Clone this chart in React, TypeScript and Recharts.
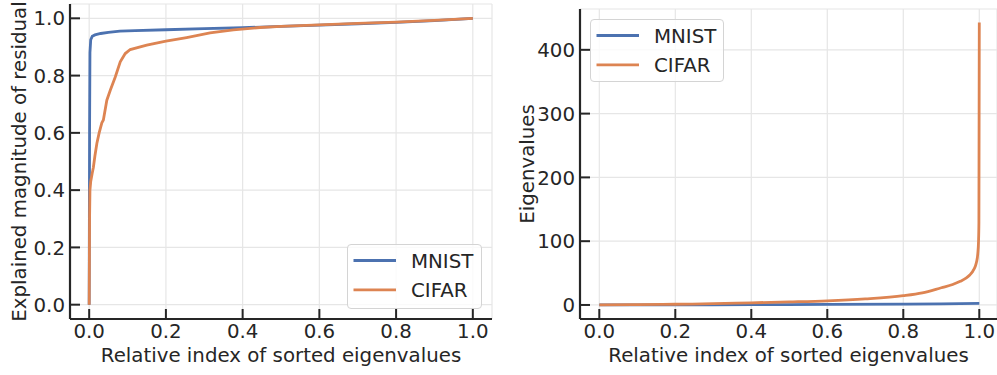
import React from 'react';
import { LineChart, Line, XAxis, YAxis, CartesianGrid, Label } from 'recharts';

const BLUE = '#4c72b0';
const ORANGE = '#dd8452';
const INK = '#262626';
const GRID = '#e6e6e6';
const FONT = '"DejaVu Sans", Verdana, sans-serif';
const FS = 19.8;

// left panel: explained magnitude of residual vs relative index
const mnistResX = [0, 0.0005, 0.001, 0.002, 0.004, 0.008, 0.015, 0.03, 0.05, 0.08, 0.12, 0.2, 0.3, 0.4, 0.5, 0.6, 0.7, 0.8, 0.9, 1.0];
const mnistResY = [0, 0.3, 0.6, 0.88, 0.925, 0.937, 0.942, 0.947, 0.951, 0.955, 0.957, 0.96, 0.964, 0.967, 0.972, 0.976, 0.981, 0.986, 0.992, 1.0];
const cifarResX = [0, 0.0005, 0.001, 0.002, 0.004, 0.008, 0.011, 0.015, 0.02, 0.026, 0.033, 0.037, 0.046, 0.055, 0.068, 0.081, 0.094, 0.107, 0.15, 0.2, 0.254, 0.315, 0.376, 0.445, 0.5, 0.6, 0.7, 0.8, 0.9, 1.0];
const cifarResY = [0, 0.15, 0.3, 0.4, 0.43, 0.46, 0.48, 0.52, 0.563, 0.6, 0.635, 0.645, 0.714, 0.749, 0.795, 0.848, 0.877, 0.891, 0.906, 0.92, 0.933, 0.949, 0.96, 0.968, 0.972, 0.977, 0.982, 0.987, 0.993, 1.0];

// right panel: sorted eigenvalues
const mnistEigX = [0, 0.2, 0.4, 0.6, 0.8, 0.9, 1.0];
const mnistEigY = [0, 0.2, 0.5, 0.9, 1.4, 1.8, 2.6];
const cifarEigX = [0, 0.1, 0.2, 0.3, 0.4, 0.5, 0.6, 0.7, 0.8, 0.85, 0.9, 0.93, 0.95, 0.965, 0.975, 0.983, 0.989, 0.993, 0.996, 0.998, 0.999, 1.0];
const cifarEigY = [0, 0.5, 1.1, 2, 3.4, 4.8, 6.5, 9.5, 14.5, 19, 27, 32, 37, 42, 47, 53, 60, 68, 80, 100, 130, 443];

const unitTicks = [0, 0.2, 0.4, 0.6, 0.8, 1.0];
const eigTicks = [0, 100, 200, 300, 400];
const seriesNames = ['MNIST', 'CIFAR'];
const seriesColors = [BLUE, ORANGE];

const zip = (xs: number[], ys: number[]) => xs.map((x, i) => ({ x, y: ys[i] }));

const XTick = (props: any) => {
  const { x, y, payload } = props;
  return (
    <g>
      <line x1={x} x2={x} y1={y - 10} y2={y} stroke={INK} strokeWidth={2} />
      <text x={x} y={y + 19} textAnchor="middle" fontSize={FS} fontFamily={FONT} fill={INK}>
        {Number(payload.value).toFixed(1)}
      </text>
    </g>
  );
};

const makeYTick = (fmt: (v: number) => string) => (props: any) => {
  const { x, y, payload } = props;
  return (
    <g>
      <line x1={x} x2={x + 10} y1={y} y2={y} stroke={INK} strokeWidth={2} />
      <text x={x - 5} y={y} dy="0.36em" textAnchor="end" fontSize={FS} fontFamily={FONT} fill={INK}>
        {fmt(Number(payload.value))}
      </text>
    </g>
  );
};

const YLabel = ({ viewBox, cx, text }: any) => {
  const cy = viewBox.y + viewBox.height / 2;
  return (
    <text x={cx} y={cy} transform={`rotate(-90 ${cx} ${cy})`} dy="0.36em" textAnchor="middle" fontSize={FS} fontFamily={FONT} fill={INK}>
      {text}
    </text>
  );
};

const XLabel = ({ viewBox, text }: any) => (
  <text x={viewBox.x + viewBox.width / 2} y={viewBox.y + 43} textAnchor="middle" fontSize={FS} fontFamily={FONT} fill={INK}>
    {text}
  </text>
);

function LegendBox({ left, top, width, height }: { left: number; top: number; width: number; height: number }) {
  return (
    <div
      style={{
        position: 'absolute', left, top, width, height, boxSizing: 'border-box',
        border: '1px solid #d4d4d4', borderRadius: 4, background: 'rgba(255,255,255,0.8)',
      }}
    >
      <svg width={width} height={height} style={{ position: 'absolute', left: -1, top: -1 }}>
        {seriesNames.map((name, i) => (
          <g key={name}>
            <line x1={6.5} x2={49} y1={16.5 + i * 29.3} y2={16.5 + i * 29.3} stroke={seriesColors[i]} strokeWidth={2.8} />
            <text x={64} y={23.7 + i * 29} fontSize={FS} fontFamily={FONT} fill={INK}>{name}</text>
          </g>
        ))}
      </svg>
    </div>
  );
}

const axisLine = { stroke: INK, strokeWidth: 2.2 };

export default function App() {
  return (
    <div style={{ position: 'absolute', left: 0, top: 0, width: 997, height: 375, background: '#fff', overflow: 'hidden' }}>
      <div style={{ position: 'absolute', left: 0, top: 0 }}>
        <LineChart width={500} height={375} margin={{ top: 4, right: 8, bottom: 0, left: 0 }}>
          <CartesianGrid stroke={GRID} strokeWidth={1.2} />
          <XAxis
            type="number" dataKey="x" domain={[-0.05, 1.05]} allowDataOverflow ticks={unitTicks} interval={0}
            height={56} tickSize={0} tickMargin={0} tickLine={false} axisLine={axisLine} tick={XTick}
          >
            <Label content={<XLabel text="Relative index of sorted eigenvalues" />} />
          </XAxis>
          <YAxis
            type="number" domain={[-0.05, 1.05]} allowDataOverflow ticks={unitTicks} interval={0}
            width={70} tickSize={0} tickMargin={0} tickLine={false} axisLine={axisLine} tick={makeYTick((v) => v.toFixed(1))}
          >
            <Label content={<YLabel cx={19} text="Explained magnitude of residual" />} />
          </YAxis>
          <Line data={zip(mnistResX, mnistResY)} dataKey="y" type="linear" stroke={BLUE} strokeWidth={2.8} dot={false} isAnimationActive={false} />
          <Line data={zip(cifarResX, cifarResY)} dataKey="y" type="linear" stroke={ORANGE} strokeWidth={2.8} dot={false} isAnimationActive={false} />
        </LineChart>
      </div>
      <div style={{ position: 'absolute', left: 500, top: 0 }}>
        <LineChart width={497} height={375} margin={{ top: 9, right: 0, bottom: 0, left: 0 }}>
          <CartesianGrid stroke={GRID} strokeWidth={1.2} />
          <XAxis
            type="number" dataKey="x" domain={[-0.0508, 1.0466]} allowDataOverflow ticks={unitTicks} interval={0}
            height={56} tickSize={0} tickMargin={0} tickLine={false} axisLine={axisLine} tick={XTick}
          >
            <Label content={<XLabel text="Relative index of sorted eigenvalues" />} />
          </XAxis>
          <YAxis
            type="number" domain={[-22, 464]} allowDataOverflow ticks={eigTicks} interval={0}
            width={80} tickSize={0} tickMargin={0} tickLine={false} axisLine={axisLine} tick={makeYTick((v) => String(v))}
          >
            <Label content={<YLabel cx={27} text="Eigenvalues" />} />
          </YAxis>
          <Line data={zip(mnistEigX, mnistEigY)} dataKey="y" type="monotoneX" stroke={BLUE} strokeWidth={2.8} dot={false} isAnimationActive={false} />
          <Line data={zip(cifarEigX, cifarEigY)} dataKey="y" type="monotoneX" stroke={ORANGE} strokeWidth={2.8} dot={false} isAnimationActive={false} />
        </LineChart>
      </div>
      <LegendBox left={347} top={244} width={135} height={65} />
      <LegendBox left={590} top={19} width={134} height={63} />
    </div>
  );
}
